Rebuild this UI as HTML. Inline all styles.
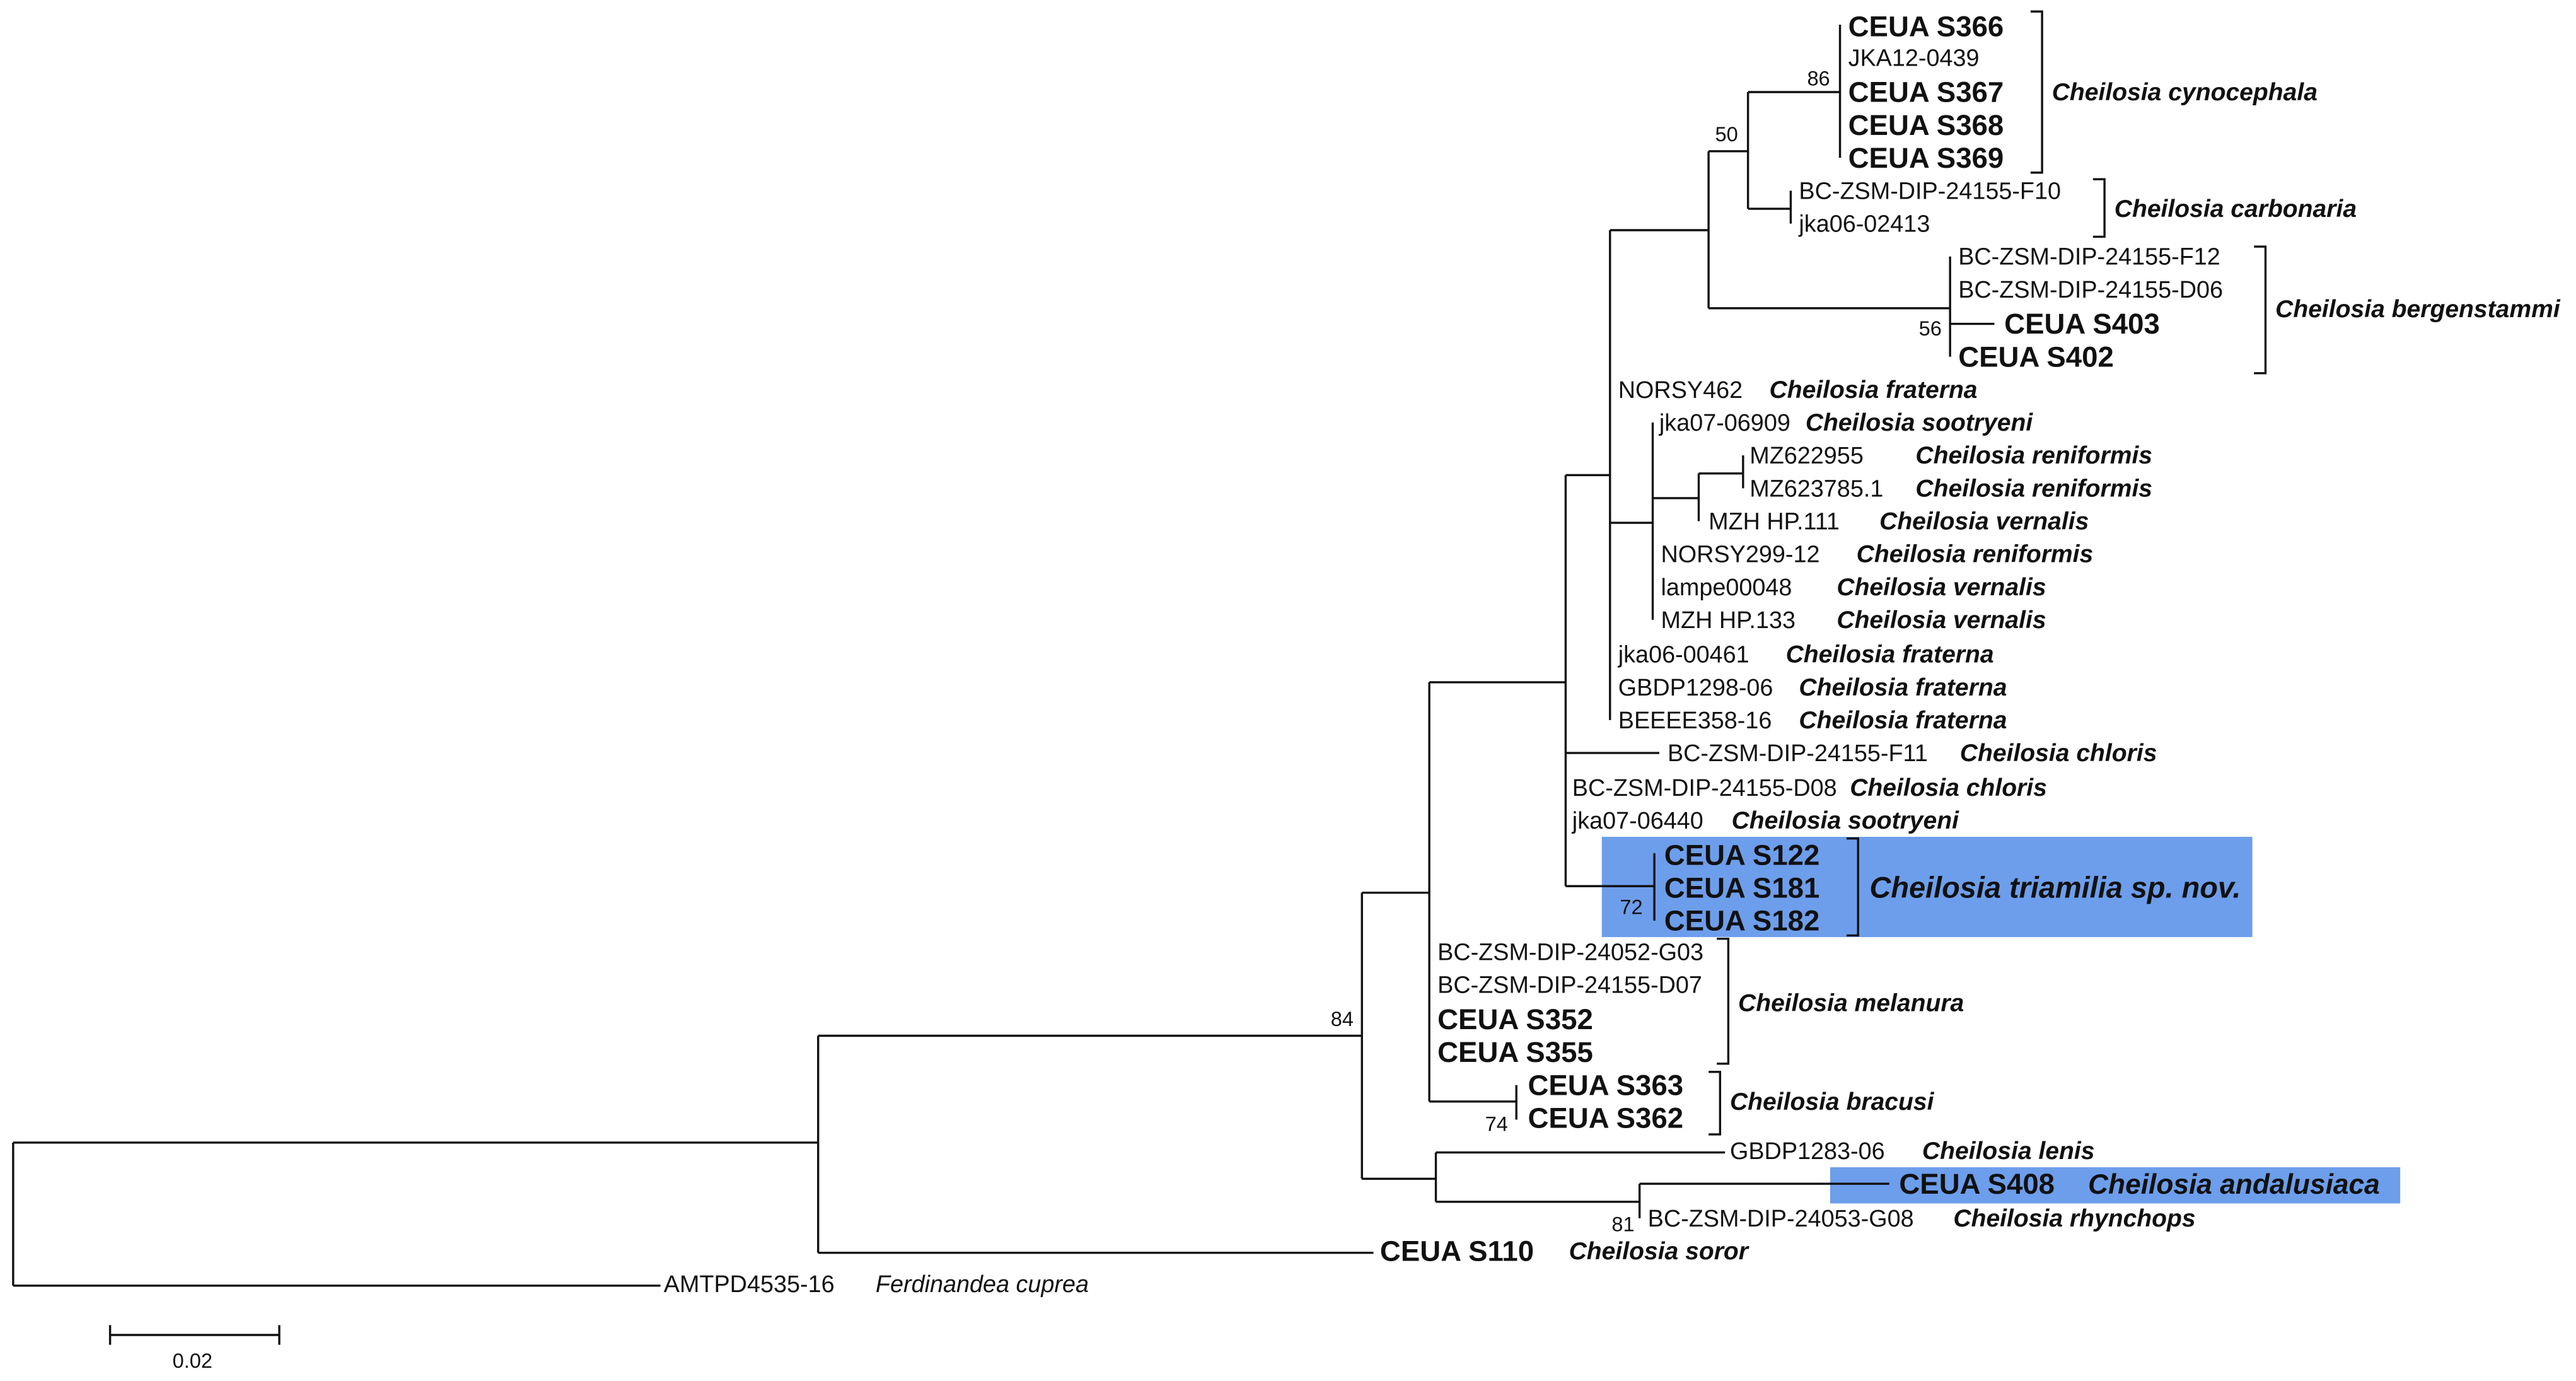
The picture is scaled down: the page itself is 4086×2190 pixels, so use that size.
<!DOCTYPE html>
<html><head><meta charset="utf-8"><style>
html,body{margin:0;padding:0;background:#fff;}
svg{display:block;}
text{font-family:"Liberation Sans",Arial,sans-serif;fill:#111;}
.n{font-size:14.5px;}
.b{font-size:17.5px;font-weight:bold;}
.s{font-size:15px;font-weight:bold;font-style:italic;}
.bs{font-size:12.5px;}
</style></head><body>
<svg width="4086" height="2190" viewBox="0 0 1568 840" preserveAspectRatio="none" xmlns="http://www.w3.org/2000/svg">
<rect x="975" y="509" width="396" height="61" fill="#6d9eeb"/>
<rect x="1114" y="710" width="347" height="22" fill="#6d9eeb"/>
<g stroke="#111" stroke-width="1.3" fill="none">
<path d="M8 695V782M8 695H498M8 782H402"/>
<path d="M498 630V762M498 630H829M498 762H836"/>
<path d="M829 543V717M829 543H870M829 717H874"/>
<path d="M870 415V670M870 415H953M870 670H923M923 660V681"/>
<path d="M953 289V539M953 289H980M953 458H1010M953 539H1007M1007 519V560"/>
<path d="M980 140V438M980 140H1040M980 318H1006"/>
<path d="M1006 257V377M1006 303H1034M1034 288V317M1034 288H1061M1061 277V297"/>
<path d="M1040 92V187.5M1040 92H1064M1040 187.5H1187"/>
<path d="M1064 56V127M1064 56H1120M1120 15V96M1064 127H1090M1090 116V136"/>
<path d="M1187 156V217M1187 197H1214"/>
<path d="M874 701V731M874 701H1050M874 731H998M998 720V741M998 720H1150"/>
<path d="M1236 7H1243V105H1236"/>
<path d="M1274 109H1281V144H1274"/>
<path d="M1372 150H1379V227H1372"/>
<path d="M1124 510H1131V569H1124"/>
<path d="M1045 571H1052V647H1045"/>
<path d="M1040 652H1047V690H1040"/>
<path d="M67 812H170M67 806V818M170 806V818"/>
</g>
<text class="bs" x="1100" y="52">86</text>
<text class="bs" x="1044" y="86">50</text>
<text class="bs" x="1168" y="204">56</text>
<text class="bs" x="986" y="556">72</text>
<text class="bs" x="810" y="624">84</text>
<text class="bs" x="904" y="688">74</text>
<text class="bs" x="981" y="749">81</text>
<text class="bs" x="105" y="832">0.02</text>
<text class="b" x="1125" y="22">CEUA S366</text>
<text class="n" x="1125" y="40">JKA12-0439</text>
<text class="b" x="1125" y="62">CEUA S367</text>
<text class="b" x="1125" y="82">CEUA S368</text>
<text class="b" x="1125" y="102">CEUA S369</text>
<text class="s" x="1249" y="61">Cheilosia cynocephala</text>
<text class="n" x="1095" y="121">BC-ZSM-DIP-24155-F10</text>
<text class="n" x="1095" y="141">jka06-02413</text>
<text class="s" x="1287" y="132">Cheilosia carbonaria</text>
<text class="n" x="1192" y="161">BC-ZSM-DIP-24155-F12</text>
<text class="n" x="1192" y="181">BC-ZSM-DIP-24155-D06</text>
<text class="b" x="1220" y="203">CEUA S403</text>
<text class="b" x="1192" y="223">CEUA S402</text>
<text class="s" x="1385" y="193">Cheilosia bergenstammi</text>
<text class="n" x="985" y="242">NORSY462</text><text class="s" x="1077" y="242">Cheilosia fraterna</text>
<text class="n" x="1010" y="262">jka07-06909</text><text class="s" x="1099" y="262">Cheilosia sootryeni</text>
<text class="n" x="1065" y="282">MZ622955</text><text class="s" x="1166" y="282">Cheilosia reniformis</text>
<text class="n" x="1065" y="302">MZ623785.1</text><text class="s" x="1166" y="302">Cheilosia reniformis</text>
<text class="n" x="1040" y="322">MZH HP.111</text><text class="s" x="1144" y="322">Cheilosia vernalis</text>
<text class="n" x="1011" y="342">NORSY299-12</text><text class="s" x="1130" y="342">Cheilosia reniformis</text>
<text class="n" x="1011" y="362">lampe00048</text><text class="s" x="1118" y="362">Cheilosia vernalis</text>
<text class="n" x="1011" y="382">MZH HP.133</text><text class="s" x="1118" y="382">Cheilosia vernalis</text>
<text class="n" x="985" y="403">jka06-00461</text><text class="s" x="1087" y="403">Cheilosia fraterna</text>
<text class="n" x="985" y="423">GBDP1298-06</text><text class="s" x="1095" y="423">Cheilosia fraterna</text>
<text class="n" x="985" y="443">BEEEE358-16</text><text class="s" x="1095" y="443">Cheilosia fraterna</text>
<text class="n" x="1015" y="463">BC-ZSM-DIP-24155-F11</text><text class="s" x="1193" y="463">Cheilosia chloris</text>
<text class="n" x="957" y="484">BC-ZSM-DIP-24155-D08</text><text class="s" x="1126" y="484">Cheilosia chloris</text>
<text class="n" x="957" y="504">jka07-06440</text><text class="s" x="1054" y="504">Cheilosia sootryeni</text>
<text class="b" x="1013" y="526">CEUA S122</text>
<text class="b" x="1013" y="546">CEUA S181</text>
<text class="b" x="1013" y="566">CEUA S182</text>
<text class="s" x="1138" y="546" style="font-size:18px">Cheilosia triamilia sp. nov.</text>
<text class="n" x="875" y="584">BC-ZSM-DIP-24052-G03</text>
<text class="n" x="875" y="604">BC-ZSM-DIP-24155-D07</text>
<text class="b" x="875" y="626">CEUA S352</text>
<text class="b" x="875" y="646">CEUA S355</text>
<text class="s" x="1058" y="615">Cheilosia melanura</text>
<text class="b" x="930" y="666">CEUA S363</text>
<text class="b" x="930" y="686">CEUA S362</text>
<text class="s" x="1053" y="675">Cheilosia bracusi</text>
<text class="n" x="1053" y="705">GBDP1283-06</text><text class="s" x="1170" y="705">Cheilosia lenis</text>
<text class="b" x="1156" y="726">CEUA S408</text><text class="s" x="1271" y="726" style="font-size:17px">Cheilosia andalusiaca</text>
<text class="n" x="1003" y="746">BC-ZSM-DIP-24053-G08</text><text class="s" x="1189" y="746">Cheilosia rhynchops</text>
<text class="b" x="840" y="767">CEUA S110</text><text class="s" x="955" y="766">Cheilosia soror</text>
<text class="n" x="404" y="786">AMTPD4535-16</text><text class="n" x="533" y="786" style="font-style:italic">Ferdinandea cuprea</text>
</svg>
</body></html>
